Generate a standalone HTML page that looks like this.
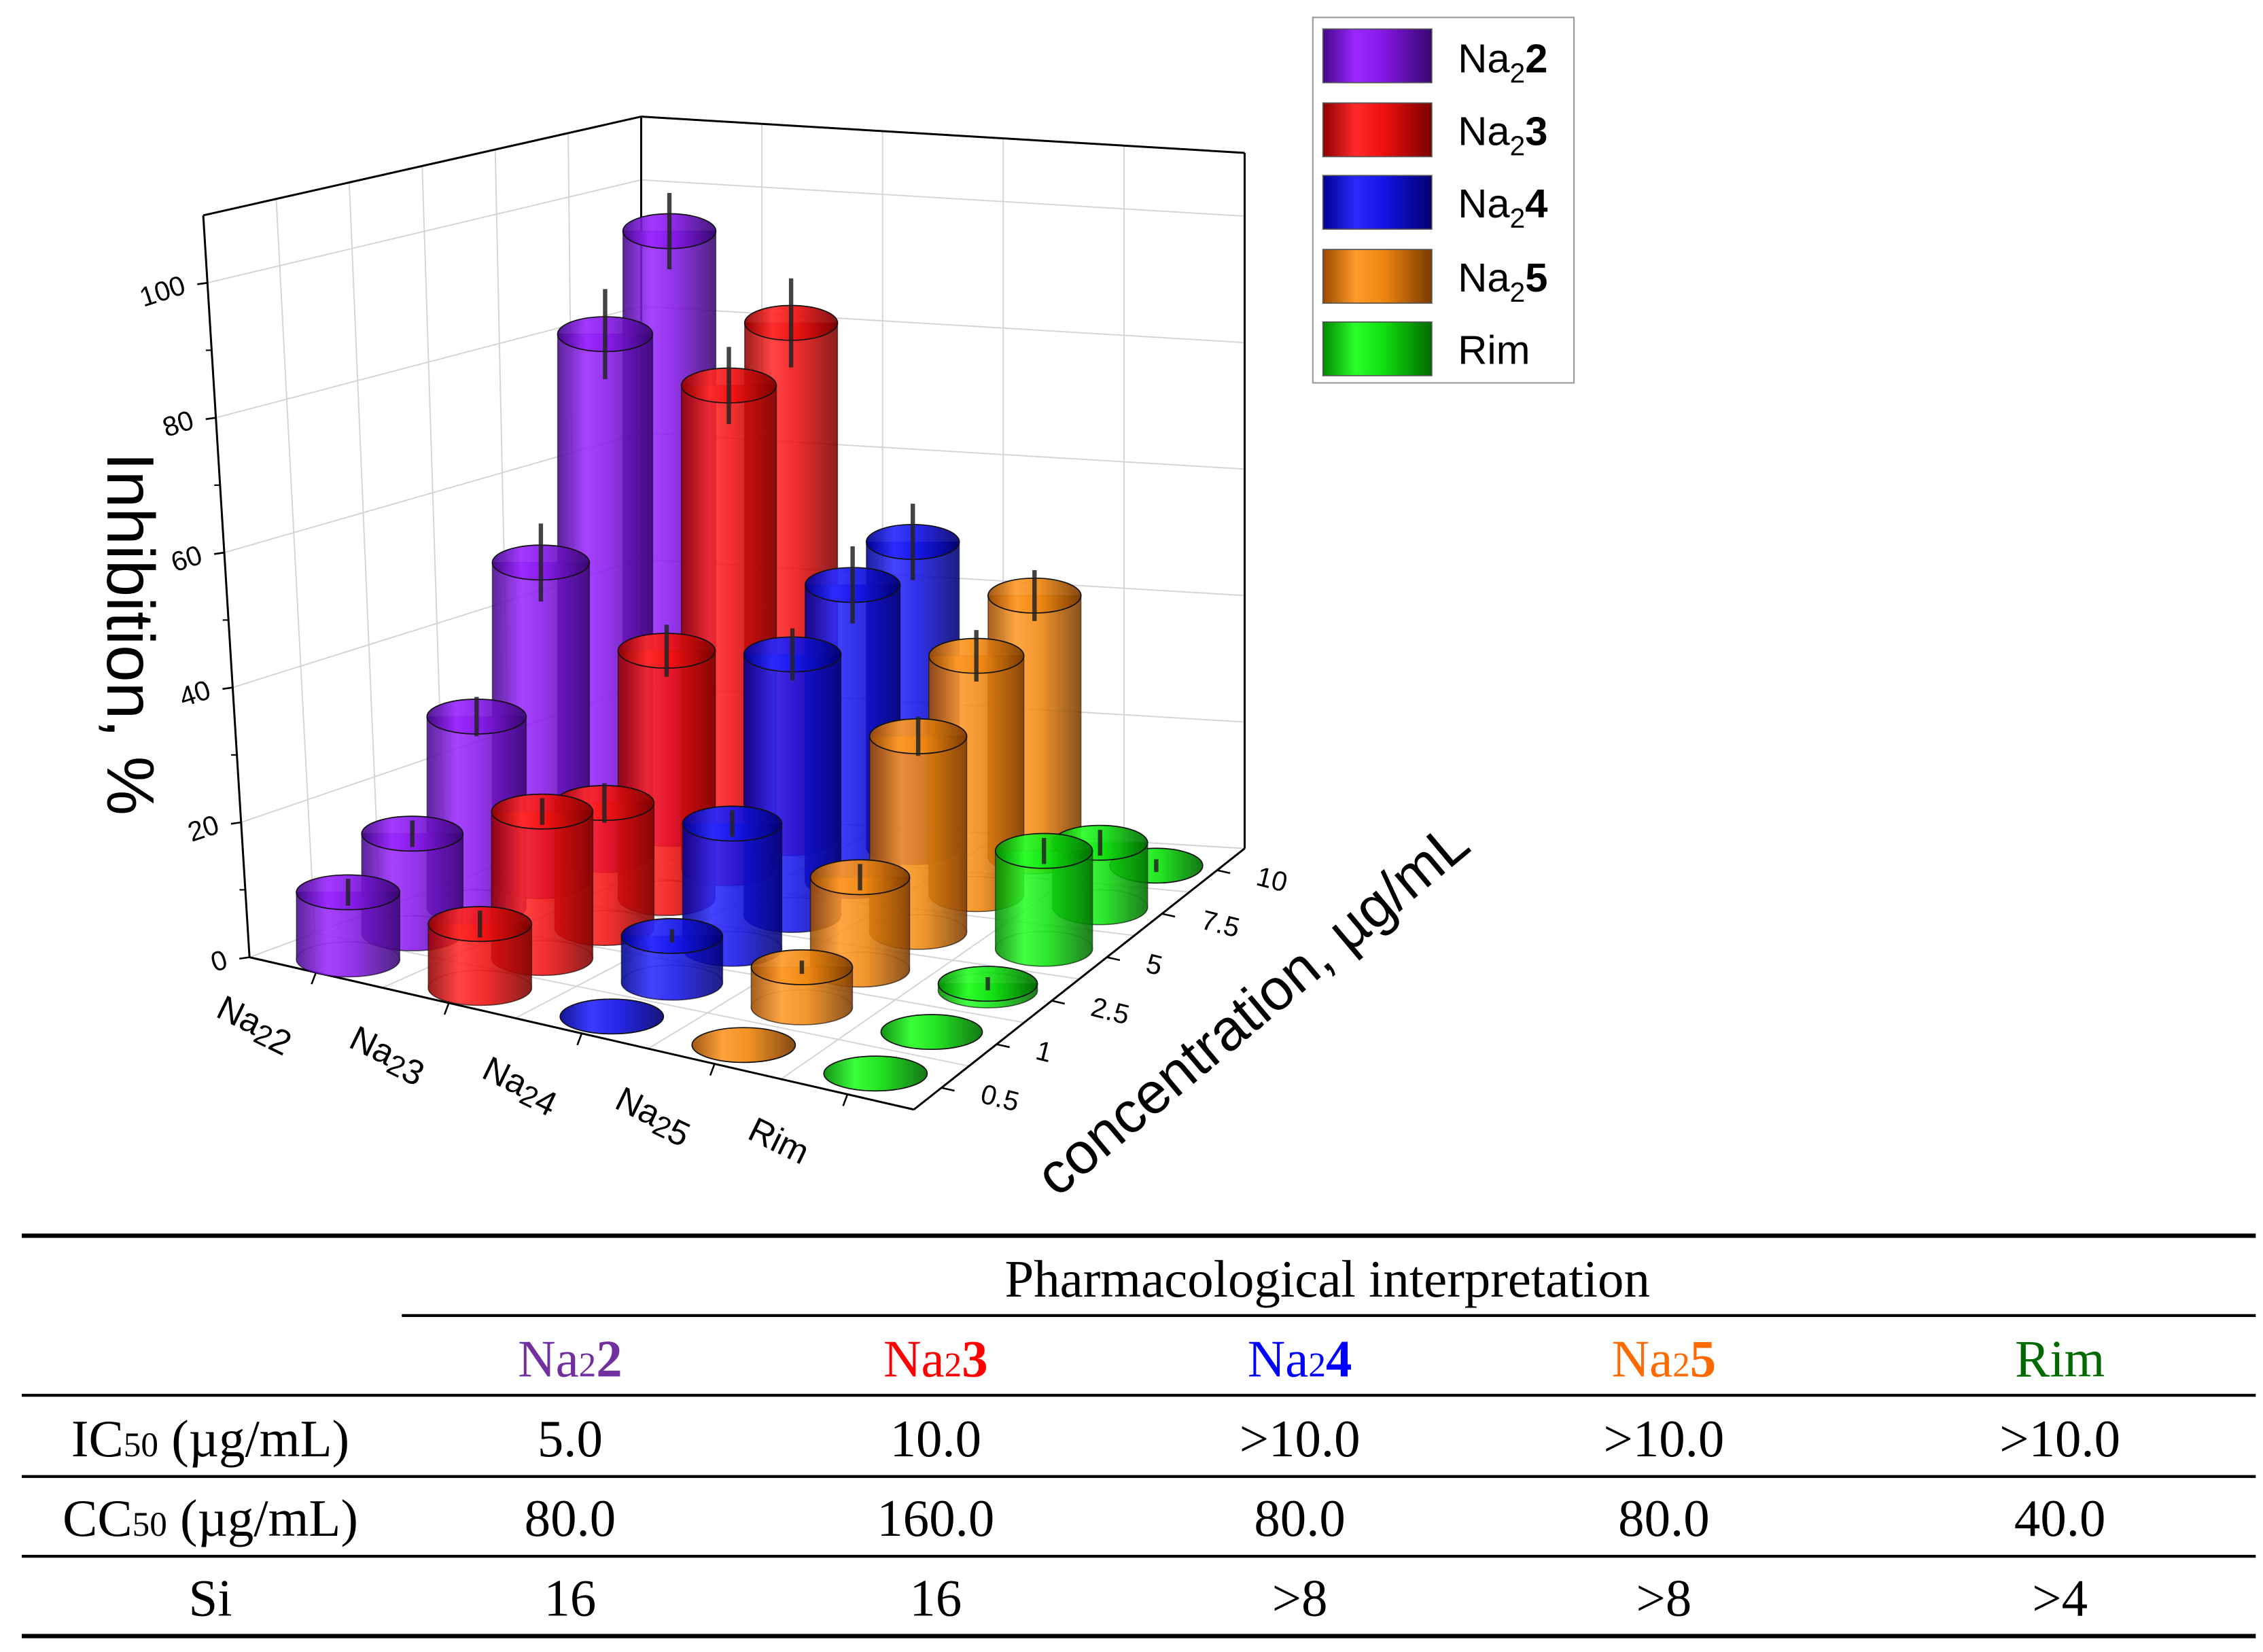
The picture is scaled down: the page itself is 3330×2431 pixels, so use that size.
<!DOCTYPE html>
<html><head><meta charset="utf-8"><style>
html,body{margin:0;padding:0;background:#fff}
svg{display:block}
text{font-family:"Liberation Sans",sans-serif}
</style></head><body>
<svg id="chart" width="3330" height="2431" viewBox="0 0 1560 1139" preserveAspectRatio="none" xmlns="http://www.w3.org/2000/svg">
<defs>
<linearGradient id="g-purple" x1="0" x2="1" y1="0" y2="0"><stop offset="0" stop-color="#45088a"/><stop offset="0.3" stop-color="#9a28ff"/><stop offset="0.55" stop-color="#8418e6"/><stop offset="1" stop-color="#360670"/></linearGradient>
<linearGradient id="g-red" x1="0" x2="1" y1="0" y2="0"><stop offset="0" stop-color="#900000"/><stop offset="0.3" stop-color="#ff2a2a"/><stop offset="0.55" stop-color="#f01010"/><stop offset="1" stop-color="#7a0000"/></linearGradient>
<linearGradient id="g-blue" x1="0" x2="1" y1="0" y2="0"><stop offset="0" stop-color="#000090"/><stop offset="0.3" stop-color="#2a2aff"/><stop offset="0.55" stop-color="#1414e8"/><stop offset="1" stop-color="#000070"/></linearGradient>
<linearGradient id="g-orange" x1="0" x2="1" y1="0" y2="0"><stop offset="0" stop-color="#9a4a00"/><stop offset="0.3" stop-color="#ff9a2a"/><stop offset="0.55" stop-color="#f08810"/><stop offset="1" stop-color="#7a3a00"/></linearGradient>
<linearGradient id="g-green" x1="0" x2="1" y1="0" y2="0"><stop offset="0" stop-color="#008a00"/><stop offset="0.3" stop-color="#2aff2a"/><stop offset="0.55" stop-color="#10e010"/><stop offset="1" stop-color="#006a00"/></linearGradient>
</defs>
<g id="grid"></g>
<g id="axes"></g>
<g id="bars"></g>

<text transform="translate(74,437) rotate(90)" text-anchor="middle" font-size="46">Inhibition, %</text>
<text transform="translate(872,706) rotate(-40)" text-anchor="middle" font-size="40">concentration, µg/mL</text>

<g>
<rect x="905" y="12" width="180" height="252" fill="#fff" stroke="#999" stroke-width="1"/>
<g><rect x="912" y="20" width="75" height="37" fill="url(#g-purple)" stroke="#555" stroke-width="0.8"/><text x="1005" y="50" font-size="28">Na<tspan font-size="19" dy="7">2</tspan><tspan dy="-7" font-weight="bold">2</tspan></text></g>
<g><rect x="912" y="71" width="75" height="37" fill="url(#g-red)" stroke="#555" stroke-width="0.8"/><text x="1005" y="100" font-size="28">Na<tspan font-size="19" dy="7">2</tspan><tspan dy="-7" font-weight="bold">3</tspan></text></g>
<g><rect x="912" y="121" width="75" height="37" fill="url(#g-blue)" stroke="#555" stroke-width="0.8"/><text x="1005" y="150" font-size="28">Na<tspan font-size="19" dy="7">2</tspan><tspan dy="-7" font-weight="bold">4</tspan></text></g>
<g><rect x="912" y="172" width="75" height="37" fill="url(#g-orange)" stroke="#555" stroke-width="0.8"/><text x="1005" y="201" font-size="28">Na<tspan font-size="19" dy="7">2</tspan><tspan dy="-7" font-weight="bold">5</tspan></text></g>
<g><rect x="912" y="222" width="75" height="37" fill="url(#g-green)" stroke="#555" stroke-width="0.8"/><text x="1005" y="251" font-size="28">Rim</text></g>
</g>

<g>
<line x1="15" y1="852" x2="1555" y2="852" stroke="#000" stroke-width="3"/>
<line x1="277" y1="907" x2="1555" y2="907" stroke="#000" stroke-width="2"/>
<line x1="15" y1="962" x2="1555" y2="962" stroke="#000" stroke-width="2"/>
<line x1="15" y1="1018" x2="1555" y2="1018" stroke="#000" stroke-width="2"/>
<line x1="15" y1="1073" x2="1555" y2="1073" stroke="#000" stroke-width="2"/>
<line x1="15" y1="1128" x2="1555" y2="1128" stroke="#000" stroke-width="3"/>
<g style="font-family:'Liberation Serif',serif" font-size="36" text-anchor="middle">
<text x="915" y="894" style="font-family:'Liberation Serif',serif">Pharmacological interpretation</text>
<text x="393" y="949" fill="#7030a0" style="font-family:'Liberation Serif',serif">Na<tspan font-size="24">2</tspan><tspan font-weight="bold">2</tspan></text>
<text x="645" y="949" fill="#ff0000" style="font-family:'Liberation Serif',serif">Na<tspan font-size="24">2</tspan><tspan font-weight="bold">3</tspan></text>
<text x="896" y="949" fill="#0000ff" style="font-family:'Liberation Serif',serif">Na<tspan font-size="24">2</tspan><tspan font-weight="bold">4</tspan></text>
<text x="1147" y="949" fill="#ff6a00" style="font-family:'Liberation Serif',serif">Na<tspan font-size="24">2</tspan><tspan font-weight="bold">5</tspan></text>
<text x="1420" y="949" fill="#006a00" style="font-family:'Liberation Serif',serif">Rim</text>
<text x="145" y="1004" style="font-family:'Liberation Serif',serif">IC<tspan font-size="24">50</tspan> (µg/mL)</text>
<text x="393" y="1004" style="font-family:'Liberation Serif',serif">5.0</text><text x="645" y="1004" style="font-family:'Liberation Serif',serif">10.0</text><text x="896" y="1004" style="font-family:'Liberation Serif',serif">&gt;10.0</text><text x="1147" y="1004" style="font-family:'Liberation Serif',serif">&gt;10.0</text><text x="1420" y="1004" style="font-family:'Liberation Serif',serif">&gt;10.0</text>
<text x="145" y="1059" style="font-family:'Liberation Serif',serif">CC<tspan font-size="24">50</tspan> (µg/mL)</text>
<text x="393" y="1059" style="font-family:'Liberation Serif',serif">80.0</text><text x="645" y="1059" style="font-family:'Liberation Serif',serif">160.0</text><text x="896" y="1059" style="font-family:'Liberation Serif',serif">80.0</text><text x="1147" y="1059" style="font-family:'Liberation Serif',serif">80.0</text><text x="1420" y="1059" style="font-family:'Liberation Serif',serif">40.0</text>
<text x="145" y="1114" style="font-family:'Liberation Serif',serif">Si</text>
<text x="393" y="1114" style="font-family:'Liberation Serif',serif">16</text><text x="645" y="1114" style="font-family:'Liberation Serif',serif">16</text><text x="896" y="1114" style="font-family:'Liberation Serif',serif">&gt;8</text><text x="1147" y="1114" style="font-family:'Liberation Serif',serif">&gt;8</text><text x="1420" y="1114" style="font-family:'Liberation Serif',serif">&gt;4</text>
</g>
</g>
</svg>
<script>
const categories=['Na2|2','Na2|3','Na2|4','Na2|5','Rim'];
const concentrations=['0.5','1','2.5','5','7.5','10'];
const zTicks=[0,20,40,60,80,100];
const na22=[10,15,29,49,81,94];
const na23=[9.5,22,19,38,75,81];
const na24=[0,7,19,40,46,48];
const na25=[0,6,14,30,37,41];
const rim=[0,0,1,15,10,0];
const err22=[2,2,3,6,7,6];
const err23=[2,2,3,4,6,7];
const err24=[0,1,2,4,6,6];
const err25=[0,1,2,3,4,4];
const errRim=[0,0,1,2,2,1];
const ZMAX=110;
const NS='http://www.w3.org/2000/svg';
const A=[172,660],B=[630,765],C=[858,585],D=[442,560];
const SA=4.65,SB=4.7,SC=4.36,SD=4.36;
const KA=-0.29,KB=-0.1,KC=0,KD=0;
function P(u,v,z){
  const a=(1-u)*(1-v),b=u*(1-v),c=u*v,d=(1-u)*v;
  const x=a*A[0]+b*B[0]+c*C[0]+d*D[0];
  const y=a*A[1]+b*B[1]+c*C[1]+d*D[1];
  const s=a*SA+b*SB+c*SC+d*SD;
  const k=a*KA+b*KB+c*KC+d*KD;
  return [x+k*z,y-s*z,s];
}
function el(tag,parent){const e=document.createElementNS(NS,tag);parent.appendChild(e);return e;}
function line(parent,p,q,col,w){const l=el('line',parent);l.setAttribute('x1',p[0]);l.setAttribute('y1',p[1]);l.setAttribute('x2',q[0]);l.setAttribute('y2',q[1]);l.setAttribute('stroke',col);l.setAttribute('stroke-width',w);return l;}
const grid=document.getElementById('grid'),axes=document.getElementById('axes'),bars=document.getElementById('bars');
const nu=categories.length,nv=concentrations.length;
const GC='#d4d4d4';
zTicks.forEach(z=>{
  let l=line(grid,P(0,0,z),P(0,1,z),GC,0.9);
  
  
  l=line(grid,P(0,1,z),P(1,1,z),GC,0.9);
  
  
});
for(let j=0;j<=nv;j++){
  const v=j/nv;
  let l=line(grid,P(0,v,0),P(0,v,ZMAX),GC,0.9);
  
  
  l=line(grid,P(0,v,0),P(1,v,0),GC,0.9);
  
  
}
for(let i=0;i<=nu;i++){
  const u=i/nu;
  let l=line(grid,P(u,1,0),P(u,1,ZMAX),GC,0.9);
  
  
  l=line(grid,P(u,0,0),P(u,1,0),GC,0.9);
  
  
}
[[P(0,0,0),P(0,0,ZMAX)],[P(0,0,ZMAX),P(0,1,ZMAX)],[P(0,1,ZMAX),P(1,1,ZMAX)],[P(0,1,0),P(0,1,ZMAX)],[P(1,1,0),P(1,1,ZMAX)],[P(0,0,0),P(1,0,0)],[P(1,0,0),P(1,1,0)]].forEach(pq=>{
  const l=line(axes,pq[0],pq[1],'#000',1.4);
  
  
});
zTicks.forEach(z=>{
  const p=P(0,0,z);
  const t=line(axes,p,[p[0]-7,p[1]+1],'#000',1.2);
  
  
  const tx=el('text',axes);
  
  
  tx.setAttribute('x',p[0]-14);tx.setAttribute('y',p[1]+7);
  tx.setAttribute('text-anchor','end');tx.setAttribute('font-size','19');
  tx.setAttribute('transform','rotate(-18 '+(p[0]-14)+' '+(p[1]+7)+')');
  tx.textContent=z;
  if(z<100){const pm=P(0,0,z+10);const m=line(axes,pm,[pm[0]-4,pm[1]],'#000',1);
  
  }
});
categories.forEach((c,i)=>{
  const u=(i+0.5)/nu;const p=P(u,0,0);
  const tk=line(axes,p,[p[0]-3,p[1]+8],'#000',1.2);
  
  
  const tx=el('text',axes);
  
  
  const x=p[0]-70,y=p[1]+30;
  tx.setAttribute('x',x);tx.setAttribute('y',y);tx.setAttribute('font-size','24');
  tx.setAttribute('transform','rotate(26 '+x+' '+y+')');
  const parts=c.split('|');
  if(parts.length>1){
    tx.appendChild(document.createTextNode('Na'));
    const s1=el('tspan',tx);s1.setAttribute('font-size','20');s1.setAttribute('dy','4');s1.textContent='2';
    const s2=el('tspan',tx);s2.setAttribute('dy','0');s2.textContent=parts[1];
  } else tx.textContent=c;
});
concentrations.forEach((c,j)=>{
  const v=(j+0.5)/nv;const p=P(1,v,0);
  const tk=line(axes,p,[p[0]+9,p[1]+2],'#000',1.2);
  
  
  const tx=el('text',axes);
  
  
  const x=p[0]+26,y=p[1]+10;
  tx.setAttribute('x',x);tx.setAttribute('y',y);tx.setAttribute('font-size','19');
  tx.setAttribute('transform','rotate(14 '+x+' '+y+')');
  tx.textContent=c;
});
const series=[[na22,err22,'purple'],[na23,err23,'red'],[na24,err24,'blue'],[na25,err25,'orange'],[rim,errRim,'green']];
const items=[];
series.forEach((s,i)=>{s[0].forEach((val,j)=>{const u=(i+0.5)/nu,v=(j+0.5)/nv;const b=P(u,v,0);items.push({i,j,val,err:s[1][j],col:s[2],b,s:b[2],v});});});
items.sort((a,b)=>a.b[1]-b.b[1]);
items.forEach(it=>{
  const g=el('g',bars);
  
  
  const x=it.b[0],yb=it.b[1];const rx=36*(1-0.12*it.v),ry=12;
  const yt=yb-it.val*it.s;
  const fill='url(#g-'+it.col+')';
  if(it.val>0.5){
    const bot=el('ellipse',g);bot.setAttribute('cx',x);bot.setAttribute('cy',yb);bot.setAttribute('rx',rx);bot.setAttribute('ry',ry);
    bot.setAttribute('fill','none');bot.setAttribute('stroke','rgba(0,0,0,0.35)');bot.setAttribute('stroke-width','0.8');
    const body=el('path',g);
    body.setAttribute('d','M'+(x-rx)+','+yt+' L'+(x-rx)+','+yb+' A'+rx+','+ry+' 0 0 0 '+(x+rx)+','+yb+' L'+(x+rx)+','+yt+' Z');
    body.setAttribute('fill',fill);body.setAttribute('fill-opacity','0.88');body.setAttribute('stroke','rgba(0,0,0,0.5)');body.setAttribute('stroke-width','0.7');
  }
  const top=el('ellipse',g);top.setAttribute('cx',x);top.setAttribute('cy',yt);top.setAttribute('rx',rx);top.setAttribute('ry',ry);
  top.setAttribute('fill',fill);top.setAttribute('fill-opacity','0.92');top.setAttribute('stroke','#111');top.setAttribute('stroke-width','0.8');
  if(it.err>0){
    const e=line(g,[x,yt-it.err*it.s],[x,yt+it.err*it.s],'rgba(35,35,35,0.85)',3);
    
    
  }
});
</script>
</body></html>
